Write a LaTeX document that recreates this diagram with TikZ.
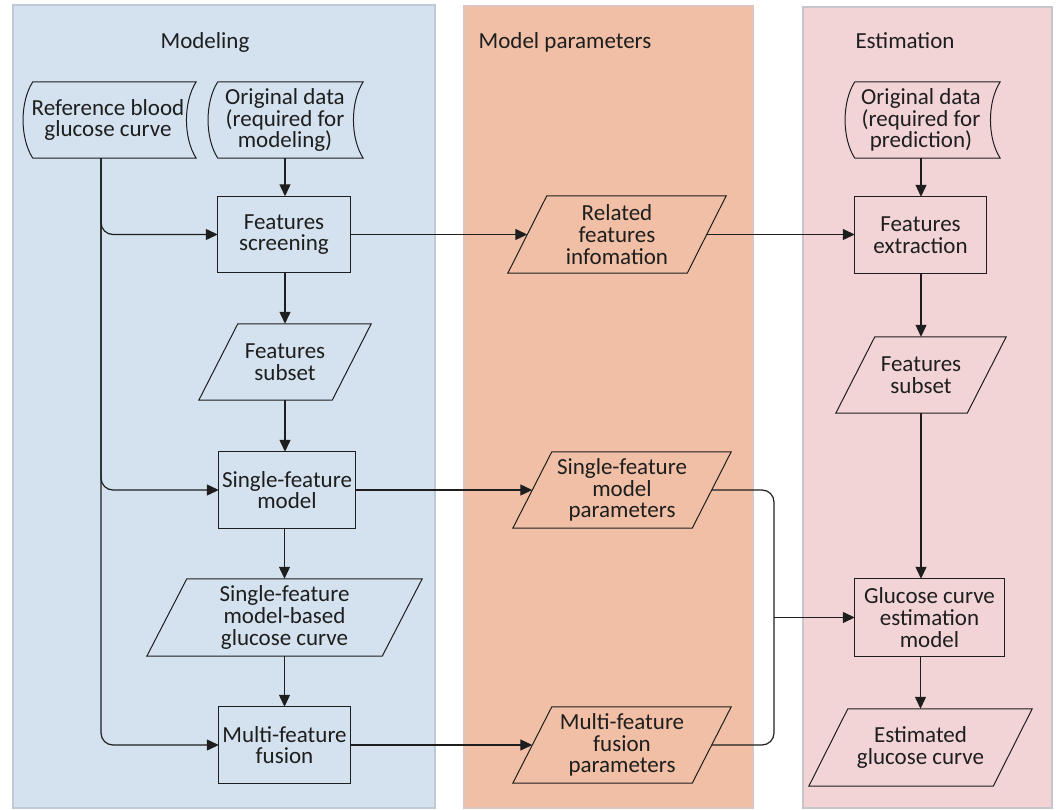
\documentclass[tikz,border=0pt]{standalone}
\usepackage{fontspec}
\setmainfont{Carlito}
\usetikzlibrary{arrows.meta,backgrounds,calc}
\definecolor{bluebg}{RGB}{211,226,238}
\definecolor{bluebd}{RGB}{190,202,214}
\definecolor{orgbg}{RGB}{240,191,165}
\definecolor{orgbd}{RGB}{222,196,190}
\definecolor{pinkbg}{RGB}{242,212,215}
\definecolor{pinkbd}{RGB}{200,196,204}
\definecolor{ink}{RGB}{30,30,30}
\newcommand\mypara[3]{%
  \draw[shapeline, fill=#3] ([xshift=-#2]#1.south west) -- ([xshift=#2]#1.north west)
    -- ([xshift=#2]#1.north east) -- ([xshift=-#2]#1.south east) -- cycle;}
\newcommand\mystored[3]{%
  \draw[shapeline, fill=#3] ([xshift=#2]#1.north west)
    .. controls +(-13pt,-20pt) and +(-13pt,20pt) .. ([xshift=#2]#1.south west)
    -- ([xshift=#2]#1.south east)
    .. controls +(-13pt,20pt) and +(-13pt,-20pt) .. ([xshift=#2]#1.north east) -- cycle;}
\newcommand\mybox[2]{%
  \draw[shapeline, fill=#2] (#1.south west) rectangle (#1.north east);}
\begin{document}
\begin{tikzpicture}[x=1pt,y=-1pt,
  every node/.style={font=\fontsize{23}{21.7}\selectfont, align=center, inner sep=0pt, text=ink},
  nd/.style={minimum width=#1, minimum height=76pt},
  title/.style={font=\fontsize{23}{24}\selectfont},
  shapeline/.style={draw=ink, line width=1pt},
  conn/.style={draw=ink, line width=1.2pt, -{Triangle[length=12pt,width=11pt]}},
  plain/.style={draw=ink, line width=1.2pt},
  panel/.style={line width=1.5pt}
]
\useasboundingbox (0,0) rectangle (1056,810);

% titles
\node[title] (t1) at (205,42) {Modeling};
\node[title] (t2) at (565,42) {Model parameters};
\node[title] (t3) at (905,41) {Estimation};

% left column
\node[nd=163pt] (ref) at (108,120) {Reference blood\\glucose curve};
\node[nd=145pt] (od) at (285,120) {Original data\\(required for\\modeling)};
\node[nd=132pt] (fs) at (284,234.5) {Features\\screening};
\node[nd=133pt] (fsub) at (285,362) {Features\\subset};
\node[nd=136pt] (sfm) at (287,490) {Single-feature\\model};
\node[nd=235pt, minimum height=77pt] (sfg) at (284.5,617.5) {Single-feature\\model-based\\glucose curve};
\node[nd=131pt] (mff) at (284.5,745) {Multi-feature\\fusion};

% middle column
\node[nd=179pt, minimum height=77pt] (rfi) at (617,234.5) {Related\\features\\infomation};
\node[nd=179pt] (sfp) at (622,490) {Single-feature\\model\\parameters};
\node[nd=179pt] (mfp) at (622,745) {Multi-feature\\fusion\\parameters};

% right column
\node[nd=145pt] (odp) at (921,120) {Original data\\(required for\\prediction)};
\node[nd=131pt] (fe) at (920.5,235) {Features\\extraction};
\node[nd=131pt] (fsub2) at (921,375) {Features\\subset};
\node[nd=149pt, minimum height=77pt] (gcm) at (929.5,617.5) {Glucose curve\\estimation\\model};
\node[nd=184pt, minimum height=77pt] (egc) at (920.5,747.5) {Estimated\\glucose curve};

\begin{scope}[on background layer]
  \draw[panel, draw=bluebd, fill=bluebg] (13,5) rectangle (435,808);
  \draw[panel, draw=orgbd, fill=orgbg] (464,6) rectangle (753,808);
  \draw[panel, draw=pinkbd, fill=pinkbg] (803,7) rectangle (1052,808);
  \mystored{ref}{6.5pt}{bluebg}
  \mystored{od}{5.5pt}{bluebg}
  \mystored{odp}{6.5pt}{pinkbg}
  \mybox{fs}{bluebg}
  \mybox{sfm}{bluebg}
  \mybox{mff}{bluebg}
  \mybox{fe}{pinkbg}
  \mybox{gcm}{pinkbg}
  \mypara{fsub}{19.5pt}{bluebg}
  \mypara{sfg}{20pt}{bluebg}
  \mypara{rfi}{19.5pt}{orgbg}
  \mypara{sfp}{19.5pt}{orgbg}
  \mypara{mfp}{19.5pt}{orgbg}
  \mypara{fsub2}{19.5pt}{pinkbg}
  \mypara{egc}{19.5pt}{pinkbg}
\end{scope}

% connectors left
\coordinate (tr) at ([xshift=-7pt]ref.south);
\draw[conn, rounded corners=12pt] (tr) |- (fs.west);
\draw[conn, rounded corners=12pt] (tr) |- (sfm.west);
\draw[conn, rounded corners=12pt] (tr) |- (mff.west);
\draw[conn] (od.south) -- (od.south |- fs.north);
\draw[conn] (fs.south -| fsub.north) -- (fsub.north);
\draw[conn] (fsub.south) -- (fsub.south |- sfm.north);
\draw[conn] (sfg.north |- sfm.south) -- (sfg.north);
\draw[conn] (sfg.south) -- (sfg.south |- mff.north);

% horizontal
\draw[conn] (fs.east) -- (rfi.west);
\draw[conn] (rfi.east) -- (rfi.east -| fe.west);
\draw[conn] (sfm.east) -- (sfp.west);
\draw[conn] (mff.east) -- (mfp.west);

% bracket
\coordinate (bx) at (774,617.5);
\draw[plain, rounded corners=12pt] (sfp.east) -| (bx) |- (mfp.east);
\draw[conn] (bx) -- (gcm.west);

% right column
\draw[conn] (odp.south) -- (odp.south |- fe.north);
\draw[conn] (fe.south -| fsub2.north) -- (fsub2.north);
\draw[conn] (fsub2.south) -- (fsub2.south |- gcm.north);
\draw[conn] (egc.north |- gcm.south) -- (egc.north);
\end{tikzpicture}
\end{document}
